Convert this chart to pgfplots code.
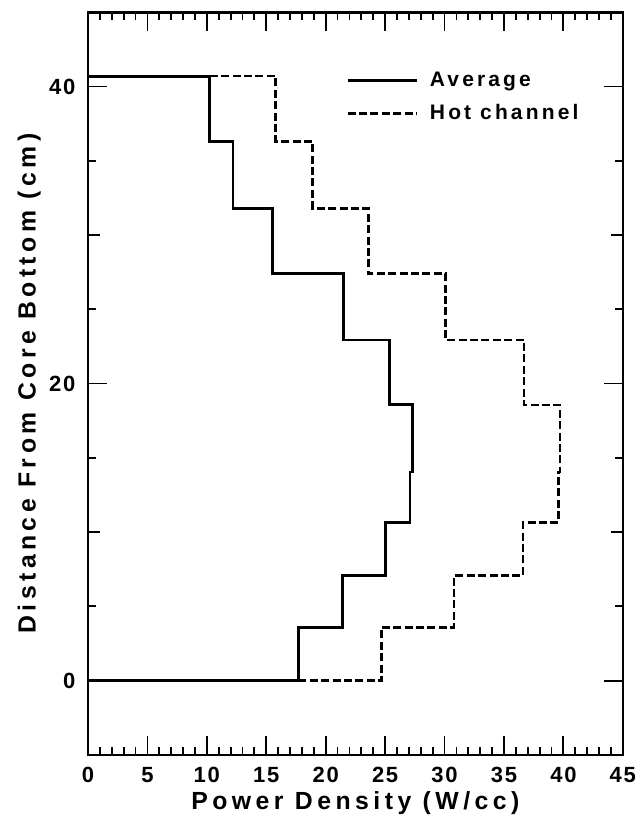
\documentclass[border=0pt]{standalone}
\usepackage{fontspec}
\setmainfont{Liberation Sans}
\newfontfamily\lsfont{Liberation Sans Bold}[LetterSpace=18]
\newfontfamily\legfont{Liberation Sans Bold}[LetterSpace=15]
\newfontfamily\tickfont{Liberation Sans Bold}[LetterSpace=8]
\usepackage{pgfplots}
\pgfplotsset{compat=1.18}

\begin{document}
\begin{tikzpicture}
\begin{axis}[
  scale only axis,
  width=267.5pt, height=371.4pt,
  xmin=0, xmax=45, ymin=-5, ymax=45,
  axis line style={line width=1.3pt},
  every tick/.style={black, line width=0.9pt},
  xtick={0,5,...,45},
  minor x tick num=4,
  ytick={0,20,40},
  minor ytick={5,15,25,35},
  extra y ticks={10,30},
  extra y tick labels={},
  extra y tick style={major tick length=6pt},
  major tick length=9.5pt,
  minor tick length=4pt,
  tick pos=both,
  tick align=inside,
  /pgf/number format/assume math mode=true,
  ticklabel style={font=\tickfont\fontsize{11}{12}\selectfont},
  xticklabel style={yshift=-2.6pt},
  yticklabel style={xshift=-2.8pt},
  xlabel={Power Density (W/cc)},
  ylabel={Distance From Core Bottom (cm)},
  label style={font=\lsfont\fontsize{12.4}{14}\selectfont},
  xlabel style={at={(axis description cs:0.5,-0.0645)}, anchor=center},
  ylabel style={at={(axis description cs:-0.11,0.5)}, anchor=center},
  legend style={draw=none, fill=none, at={(axis description cs:0.482,0.9256)}, anchor=north west, inner sep=0pt,
    row sep=3.5pt,
    /tikz/every odd column/.style={column sep=4pt},
    font=\legfont\fontsize{10.5}{12}\selectfont, cells={anchor=west}},
  legend image code/.code={\draw[#1] (0pt,0pt) -- (34.5pt,0pt);},
]
\addplot[black, line width=1.4pt] coordinates {
 (0,0) (17.7,0) (17.7,3.59) (21.4,3.59) (21.4,7.07) (25.0,7.07) (25.0,10.66)
 (27.1,10.66) (27.1,14.05) (27.3,14.05) (27.3,18.57) (25.4,18.57) (25.4,22.93)
 (21.5,22.93) (21.5,27.4) (15.5,27.4) (15.5,31.8) (12.2,31.8) (12.2,36.3)
 (10.25,36.3) (10.25,40.7) (0,40.7)};
\addplot[black, line width=1.3pt, dash pattern=on 4pt off 1.7pt] coordinates {
 (17.7,0) (24.7,0) (24.7,3.59) (30.8,3.59) (30.8,7.07) (36.6,7.07) (36.6,10.66)
 (39.6,10.66) (39.6,14.05) (39.7,14.05) (39.7,18.57) (36.7,18.57) (36.7,22.93)
 (30.1,22.93) (30.1,27.4) (23.6,27.4) (23.6,31.8) (18.9,31.8) (18.9,36.3)
 (15.8,36.3) (15.8,40.7) (10.25,40.7)};
\legend{Average, Hot channel}
\end{axis}
\path ([shift={(-44pt,-33pt)}]current axis.south west) rectangle ([shift={(8.5pt,6.15pt)}]current axis.north east);
\end{tikzpicture}
\end{document}
